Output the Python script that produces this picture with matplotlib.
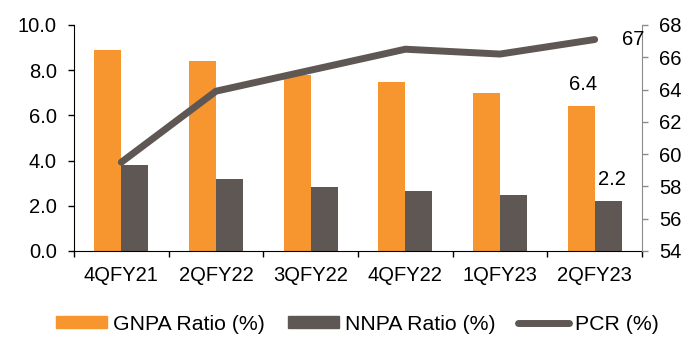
import matplotlib
matplotlib.use("Agg")
import matplotlib.pyplot as plt
import numpy as np
from matplotlib.lines import Line2D
from matplotlib.patches import Patch

plt.rcParams['font.family'] = ['Liberation Sans', 'DejaVu Sans']

quarters = ["4QFY21", "2QFY22", "3QFY22", "4QFY22", "1QFY23", "2QFY23"]
gnpa = [8.9, 8.4, 7.8, 7.5, 7.0, 6.4]
nnpa = [3.8, 3.2, 2.85, 2.65, 2.5, 2.2]
pcr = [59.5, 63.9, 65.2, 66.5, 66.2, 67.1]

orange = "#F7962F"
grey = "#5F5753"
fs = 14.5
fs_leg = 15.3

fig = plt.figure(figsize=(6.96, 3.38), dpi=100)
ax = fig.add_axes([74/696, 1-251/338, 568/696, 226/338])
ax2 = ax.twinx()

x = np.arange(len(quarters))
w = 0.285
ax.bar(x - w/2, gnpa, w, color=orange, zorder=2)
ax.bar(x + w/2, nnpa, w, color=grey, zorder=2)

ax2.plot(x, pcr, color=grey, lw=5, solid_capstyle='round', solid_joinstyle='round', zorder=3)

ax.set_xlim(-0.5, len(quarters) - 0.5)
ax.set_ylim(0, 10)
ax.set_yticks(np.arange(0, 10.1, 2))
ax.set_yticklabels([f"{v:.1f}" for v in np.arange(0, 10.1, 2)], fontsize=fs)
ax2.set_ylim(54, 68)
ax2.set_yticks(np.arange(54, 68.1, 2))
ax2.set_yticklabels([f"{int(v)}" for v in np.arange(54, 68.1, 2)], fontsize=fs)

ax.set_xticks(x)
ax.set_xticklabels(quarters, fontsize=fs)
ax.tick_params(axis='x', length=0, pad=10.5)
ax.set_xticks(np.arange(-0.5, len(quarters)), minor=True)
ax.tick_params(axis='x', which='minor', length=4, width=1, direction='out', color='black')
ax.tick_params(axis='y', length=4, width=1, direction='out', pad=8.5)
ax2.tick_params(axis='y', length=4, width=1, direction='out', color='#8C8C8C', pad=8.5)

for s in ['top', 'right']:
    ax.spines[s].set_visible(False)
for s in ['top', 'left', 'bottom']:
    ax2.spines[s].set_visible(False)
ax2.spines['right'].set_color('#8C8C8C')
ax.spines['left'].set_color('black')
ax.spines['bottom'].set_color('black')

# value labels on the latest quarter
last = len(quarters) - 1
ax.annotate(f"{gnpa[last]:.1f}", (x[last] - w/2, gnpa[last]), xytext=(1.5, 16),
            textcoords='offset points', ha='center', va='center', fontsize=fs)
ax.annotate(f"{nnpa[last]:.1f}", (x[last] + w/2, nnpa[last]), xytext=(2.5, 16),
            textcoords='offset points', ha='center', va='center', fontsize=fs)
ax2.annotate(f"{pcr[last]:.0f}", (x[last], pcr[last]), xytext=(20, 0),
             textcoords='offset points', ha='left', va='center', fontsize=fs)

handles = [Patch(color=orange), Patch(color=grey),
           Line2D([0], [0], color=grey, lw=5, solid_capstyle='round')]
labels = ["GNPA Ratio (%)", "NNPA Ratio (%)", "PCR (%)"]
fig.legend(handles, labels, loc='center', bbox_to_anchor=(0.514, 1-324/338), ncol=3,
           frameon=False, fontsize=fs_leg, handlelength=2.4, handleheight=0.52,
           handletextpad=0.28, columnspacing=1.08, borderpad=0)

fig.savefig("out.png", dpi=100)
